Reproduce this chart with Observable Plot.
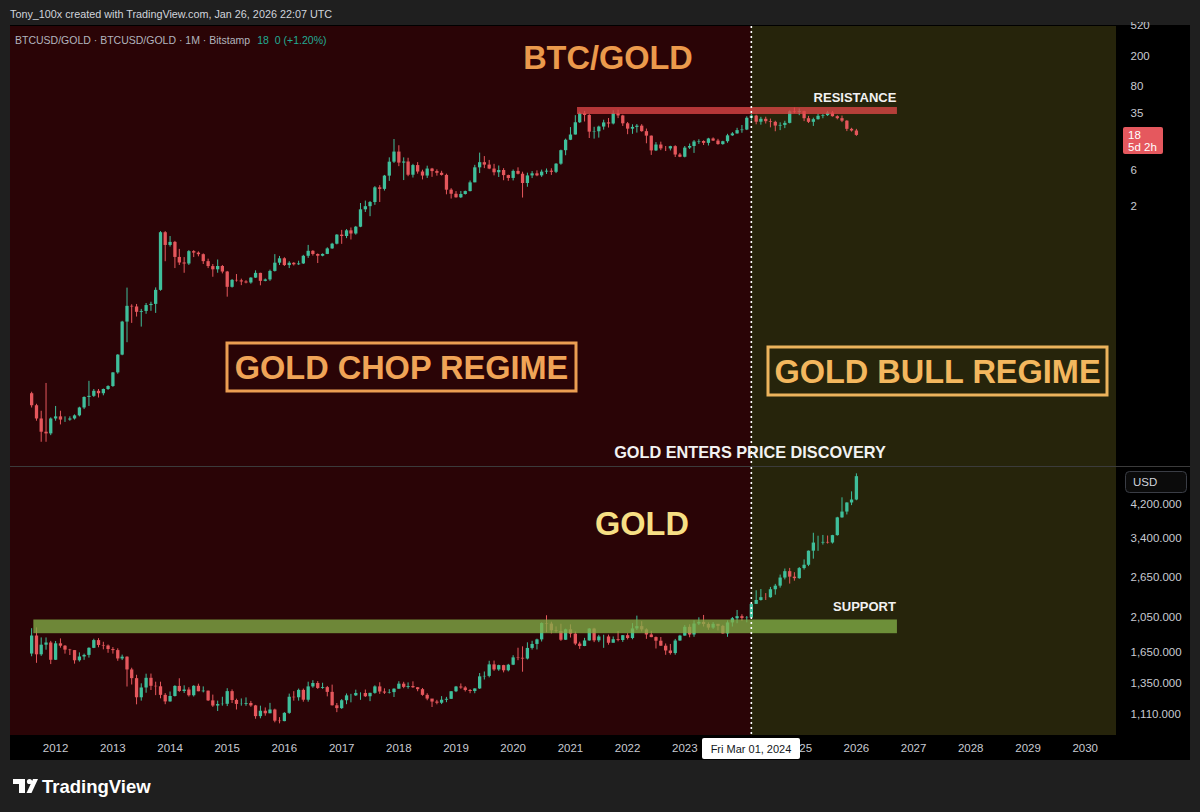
<!DOCTYPE html>
<html><head><meta charset="utf-8">
<script src="https://cdn.jsdelivr.net/npm/d3@7"></script>
<script src="https://cdn.jsdelivr.net/npm/@observablehq/plot@0.6"></script>
<style>
html,body{margin:0;padding:0;background:#1f1f1f;width:1200px;height:812px;overflow:hidden}
#wrap{position:relative;width:1200px;height:812px}
.pos{position:absolute}
#frame{left:10px;top:25px;width:1180px;height:735px;background:#000}
#sep{left:10px;top:466px;width:1180px;height:1px;background:#3b3b3b}
#overlay{position:absolute;left:0;top:0;pointer-events:none}
</style></head>
<body><div id="wrap">
<div id="frame" class="pos"></div>
<div id="topPane" class="pos" style="left:10px;top:22px"></div>
<div id="sep" class="pos"></div>
<div id="botPane" class="pos" style="left:10px;top:467px"></div>
</div>
<script>
// ---------- DATA (monthly candles, first bar = Aug 2011) ----------
const firstMonth = "2011-08-01";
const btcGoldFirstOpen = 0.0065;
const btcGoldClose = [
 .0045,.0030,.0020,.0019,.0030,
 .0032,.0029,.0029,.0030,.0033,.0042,.0058,.0060,.0070,.0065,.0074,.0081,
 .0123,.0212,.0583,.0944,.0926,.0786,.0807,.0967,.1002,.154,.900,.609,
 .669,.422,.356,.345,.504,.482,.459,.371,.319,.289,.320,.270,
 .169,.209,.206,.199,.193,.224,.259,.203,.212,.275,.354,.405,
 .329,.353,.337,.346,.437,.509,.462,.438,.463,.548,.633,.836,
 .801,.953,.865,1.065,1.814,1.997,2.266,3.555,3.391,5.09,7.80,10.63,
 7.58,7.84,5.23,7.03,5.77,5.10,6.32,5.85,5.55,5.20,3.31,2.92,
 2.62,2.90,3.17,4.14,6.56,7.68,7.13,6.32,5.64,6.05,5.17,4.74,
 5.88,5.39,4.06,5.12,5.46,5.13,5.75,5.92,5.72,7.34,11.09,15.27,
 17.92,26.07,34.43,32.62,19.56,19.80,22.86,25.96,25.13,34.38,32.13,25.26,
 21.44,22.63,23.49,19.87,17.31,11.01,13.19,11.72,11.70,12.55,9.71,9.07,
 12.00,12.60,14.46,14.70,13.87,15.88,14.88,13.37,14.59,17.47,18.53,20.49,
 20.87,29.91,31.99,26.53,29.00,26.95,26.41,23.56,24.03,25.59,36.40,35.59,
 36.60,29.51,26.42,28.64,31.80,32.44,35.18,31.40,29.56,27.38,21.32,20.25,
 17.7
];
const btcGoldHigh = [
 .0068,.0047,.0038,.0089,.0031,
 .0044,.0038,.0032,.0032,.0034,.0043,.0059,.0095,.0074,.0074,.0075,.0083,
 .0124,.0215,.0597,.165,.099,.100,.086,.103,.107,.166,.93,.93,
 .80,.69,.54,.42,.52,.52,.50,.47,.40,.34,.39,.33,
 .275,.215,.25,.217,.207,.227,.28,.26,.218,.286,.46,.435,
 .418,.37,.36,.376,.45,.61,.52,.47,.47,.567,.65,.848,
 .966,.99,1.04,1.09,2.2,2.37,2.34,3.69,3.8,5.2,8.9,15.6,
 12.9,8.9,8.8,7.3,7.7,6.1,6.9,6.45,6.17,5.9,5.4,3.46,
 3.17,3.18,3.22,4.38,7.08,10.3,9.26,8.23,7.3,6.94,6.4,5.24,
 6.14,6.56,5.74,5.57,5.85,5.98,6.12,6.33,6.37,7.46,11.3,15.8,
 22.5,32.4,35.9,36.9,33.5,22.7,23.5,28.2,29.7,37.7,38.3,32.8,
 26.3,24.5,24.7,24.6,21.5,17.4,14.2,14.4,12.6,12.7,12.9,10.2,
 12.6,13.6,15.1,15.5,15.0,16.2,16.4,15.7,14.8,18.3,19.3,22.0,
 24.0,31.3,34.3,32.8,30.8,30.9,29.2,27.3,26.0,27.3,37.6,41.0,
 39.8,37.2,31.7,30.0,33.9,33.5,37.0,36.8,32.3,32.0,27.8,22.0,
 21.3
];
const btcGoldLow = [
 .0042,.0028,.00147,.00147,.0018,
 .0028,.0025,.0027,.0028,.0029,.0032,.0040,.0044,.0058,.0057,.0061,.0072,
 .0079,.0118,.0208,.031,.056,.068,.050,.074,.081,.076,.150,.37,
 .58,.30,.33,.26,.33,.42,.43,.34,.30,.23,.26,.255,
 .125,.165,.198,.178,.188,.186,.222,.177,.20,.203,.27,.33,
 .32,.30,.325,.33,.34,.41,.44,.35,.43,.46,.54,.62,
 .63,.75,.72,.835,1.05,1.67,1.47,2.08,2.27,3.22,4.33,7.5,
 6.8,4.44,5.0,4.8,5.4,4.53,4.74,4.9,5.08,5.1,2.87,2.52,
 2.59,2.56,2.85,3.14,4.16,5.5,6.4,6.2,5.13,4.88,4.42,4.34,
 4.39,5.28,2.6,3.62,4.72,5.0,4.9,5.36,5.2,5.5,7.1,9.5,
 15.1,17.9,25.5,26.7,16.1,15.8,16.3,20.8,22.2,24.4,29.6,23.3,
 18.1,18.3,19.0,19.5,13.7,9.6,10.8,11.1,10.8,11.0,9.0,8.95,
 8.9,11.5,10.2,13.45,13.0,12.8,14.7,13.1,13.1,13.9,17.2,18.4,
 18.9,20.5,27.4,24.5,24.2,25.1,22.3,19.8,20.5,21.8,25.2,34.4,
 32.4,27.0,25.5,23.3,28.3,29.5,31.6,31.0,28.5,26.2,19.9,19.6,
 17.2
];

const goldFirstOpen = 1628;
const goldClose = [
 1825,1620,1722,1746,1565,
 1737,1711,1669,1664,1560,1598,1614,1688,1773,1719,1713,1675,
 1664,1578,1596,1472,1393,1234,1313,1396,1327,1323,1253,1202,
 1244,1326,1284,1296,1250,1327,1282,1287,1210,1171,1182,1184,
 1283,1213,1183,1184,1190,1172,1095,1133,1115,1142,1064,1061,
 1118,1238,1234,1293,1215,1322,1351,1309,1316,1277,1173,1152,
 1211,1249,1249,1268,1268,1242,1269,1322,1280,1271,1275,1303,
 1345,1318,1325,1315,1299,1253,1224,1201,1192,1215,1222,1282,
 1321,1313,1292,1284,1305,1409,1413,1520,1472,1513,1464,1517,
 1589,1585,1577,1687,1730,1781,1975,1968,1886,1879,1777,1898,
 1847,1734,1708,1769,1907,1770,1814,1814,1743,1783,1774,1829,
 1796,1909,1937,1897,1837,1807,1766,1711,1660,1633,1768,1824,
 1928,1837,1969,1990,1963,1919,1965,1940,1849,1983,2036,2063,
 2040,2044,2230,2286,2327,2326,2447,2503,2635,2744,2650,2625,
 2798,2858,3124,3289,3289,3303,3290,3448,3858,4003,4240,4320,
 5010
];
const goldHigh = [
 1912,1921,1803,1803,1764,
 1763,1792,1718,1677,1665,1640,1627,1694,1788,1795,1754,1724,
 1696,1683,1617,1600,1488,1423,1348,1433,1434,1362,1362,1267,
 1280,1332,1392,1331,1315,1332,1345,1322,1287,1255,1208,1238,
 1307,1297,1223,1225,1233,1206,1176,1170,1157,1191,1148,1088,
 1123,1263,1283,1304,1304,1362,1375,1367,1353,1326,1337,1190,
 1220,1264,1261,1295,1273,1296,1270,1331,1357,1306,1299,1306,
 1366,1361,1356,1365,1317,1309,1266,1220,1214,1243,1237,1284,
 1326,1347,1324,1300,1306,1439,1453,1555,1557,1517,1516,1525,
 1611,1689,1704,1748,1765,1789,1984,2075,1992,1933,1966,1906,
 1959,1872,1755,1798,1913,1916,1833,1834,1835,1814,1877,1831,
 1853,1974,2070,1998,1910,1879,1814,1808,1735,1730,1786,1833,
 1949,1960,2009,2048,2079,1983,1987,1949,1953,2009,2052,2146,
 2088,2065,2236,2431,2450,2388,2483,2531,2685,2790,2801,2726,
 2817,2956,3128,3500,3435,3452,3439,3454,3872,4381,4245,4550,
 5100
];
const goldLow = [
 1600,1535,1604,1668,1523,
 1563,1690,1627,1613,1527,1547,1564,1587,1685,1694,1672,1636,
 1627,1555,1562,1321,1338,1180,1208,1270,1292,1251,1226,1181,
 1200,1240,1277,1268,1240,1240,1282,1273,1205,1161,1131,1170,
 1167,1190,1142,1170,1169,1162,1077,1080,1098,1115,1053,1046,
 1060,1111,1208,1208,1200,1200,1311,1301,1302,1241,1171,1123,
 1146,1181,1195,1244,1214,1236,1204,1262,1261,1260,1264,1236,
 1302,1307,1303,1309,1282,1246,1211,1160,1180,1182,1196,1221,
 1275,1302,1280,1266,1266,1301,1381,1400,1459,1459,1445,1454,
 1513,1561,1451,1568,1670,1671,1757,1863,1849,1860,1764,1775,
 1802,1717,1677,1706,1766,1750,1750,1688,1722,1746,1759,1753,
 1780,1782,1890,1872,1787,1805,1681,1709,1615,1617,1616,1765,
 1823,1805,1810,1950,1932,1893,1903,1885,1846,1810,1932,1973,
 2002,1984,2039,2228,2277,2286,2319,2364,2472,2604,2536,2583,
 2614,2772,2833,2970,3121,3247,3268,3268,3436,3850,3930,4170,
 4300
];

const btcGoldTicks = [520, 200, 80, 35, 6, 2];
const goldTicks = [4200, 3400, 2650, 2050, 1650, 1350, 1110];
// 2024 is hidden under the crosshair date label in the reference
const yearTicks = [2012,2013,2014,2015,2016,2017,2018,2019,2020,2021,2022,2023,2025,2026,2027,2028,2029,2030];
const regimeSplit = "2024-03-01";
const resistanceZone = [33.6, 41.6];
const resistanceSpan = ["2021-02-15", "2026-09-20"];
const supportZone = [1852, 2020];
const supportSpan = ["2011-08-15", "2026-09-20"];

// ---------- BUILD ----------
const UP = "#3fbf9b", DOWN = "#e5575c";
const MAROON = "#2a0406", OLIVE = "#26240b";
const xDomain = [new Date(Date.UTC(2011,2,19)), new Date(Date.UTC(2030,6,20))];
const first = new Date(firstMonth + "T00:00:00Z");

function toCandles(close, high, low, firstOpen) {
  return close.map((c, i) => ({
    date: d3.utcMonth.offset(first, i),
    open: i ? close[i-1] : firstOpen,
    high: high[i], low: low[i], close: c
  }));
}
const btc = toCandles(btcGoldClose, btcGoldHigh, btcGoldLow, btcGoldFirstOpen);
const gold = toCandles(goldClose, goldHigh, goldLow, goldFirstOpen);
const split = new Date(regimeSplit + "T00:00:00Z");
const regimes = [
  {start: xDomain[0], end: split, fill: MAROON},
  {start: split, end: xDomain[1], fill: OLIVE}
];
const col = d => d.close >= d.open ? UP : DOWN;

function candleMarks(data) {
  return [
    Plot.ruleX(data, {x: "date", y1: "low", y2: "high", stroke: col, strokeWidth: 1}),
    Plot.ruleX(data, {x: "date", y1: "open", y2: "close", stroke: col, strokeWidth: 3.3})
  ];
}
const common = {
  width: 1180, marginLeft: 0, marginRight: 74,
  style: {background: "transparent", fontFamily: "'Liberation Sans', Arial, sans-serif", overflow: "hidden"}
};

const topPlot = Plot.plot({
  ...common, height: 444, marginTop: 4, marginBottom: 0,
  x: {type: "utc", domain: xDomain, axis: null},
  y: {type: "log", domain: [0.0007, 497], axis: null},
  color: {type: "identity"},
  marks: [
    Plot.rect(regimes, {x1: "start", x2: "end", fill: "fill"}),
    ...candleMarks(btc),
    Plot.rect([{a: new Date(resistanceSpan[0]), b: new Date(resistanceSpan[1]), lo: resistanceZone[0], hi: resistanceZone[1]}],
      {x1: "a", x2: "b", y1: "lo", y2: "hi", fill: "#dc4646", fillOpacity: 0.78}),
    Plot.ruleX([split], {stroke: "#ffffff", strokeWidth: 1.6, strokeDasharray: "2 3"}),
    Plot.text(btcGoldTicks, {y: d => d, text: d => String(d), frameAnchor: "right", dx: 14, textAnchor: "start", fill: "#c8cbd2", fontSize: 11.5})
  ]
});
document.getElementById("topPane").appendChild(topPlot);

const botPlot = Plot.plot({
  ...common, height: 293, marginTop: 0, marginBottom: 25,
  x: {type: "utc", domain: xDomain},
  y: {type: "log", domain: [971.6, 5309], axis: null},
  color: {type: "identity"},
  marks: [
    Plot.rect(regimes, {x1: "start", x2: "end", fill: "fill"}),
    ...candleMarks(gold),
    Plot.rect([{a: new Date(supportSpan[0]), b: new Date(supportSpan[1]), lo: supportZone[0], hi: supportZone[1]}],
      {x1: "a", x2: "b", y1: "lo", y2: "hi", fill: "#82ad46", fillOpacity: 0.78}),
    Plot.ruleX([split], {stroke: "#ffffff", strokeWidth: 1.6, strokeDasharray: "2 3"}),
    Plot.text(goldTicks, {y: d => d, text: d => d3.format(",.3f")(d), frameAnchor: "right", dx: 14, textAnchor: "start", fill: "#c8cbd2", fontSize: 11.5}),
    Plot.axisX(yearTicks.map(y => new Date(Date.UTC(y, 0, 1))), {tickFormat: d3.utcFormat("%Y"), tickSize: 0, tickPadding: 8, fill: "#c8cbd2", fontSize: 11.5})
  ]
});
document.getElementById("botPane").appendChild(botPlot);

// ---------- ANNOTATIONS ----------
const svg = d3.select("#wrap").append("svg").attr("id", "overlay").attr("width", 1200).attr("height", 812);
const F = "'Liberation Sans', Arial, sans-serif";
function txt(x, y, s, o = {}) {
  return svg.append("text").attr("x", x).attr("y", y).text(s)
    .attr("font-family", o.family || F).attr("font-size", o.size || 11.5)
    .attr("font-weight", o.weight || "normal").attr("fill", o.fill || "#d1d4dc")
    .attr("text-anchor", o.anchor || "start");
}
txt(10, 18, "Tony_100x created with TradingView.com, Jan 26, 2026 22:07 UTC", {size: 10.8, fill: "#d1d4dc"});
const hdr = txt(15, 44, "BTCUSD/GOLD · BTCUSD/GOLD · 1M · Bitstamp", {size: 10.5, fill: "#b2b5be"});
hdr.append("tspan").attr("dx", 7).attr("fill", "#22ab94").text("18");
hdr.append("tspan").attr("dx", 6).attr("fill", "#22ab94").text("0 (+1.20%)");

txt(608, 69, "BTC/GOLD", {size: 32.5, weight: "bold", fill: "#eb9a4c", anchor: "middle"});
txt(855, 102, "RESISTANCE", {size: 13, weight: "bold", fill: "#f2f2f2", anchor: "middle"});

svg.append("rect").attr("x", 227).attr("y", 343).attr("width", 349).attr("height", 48)
  .attr("fill", "none").attr("stroke", "#ec9e52").attr("stroke-width", 3);
txt(401.5, 379, "GOLD CHOP REGIME", {size: 32.5, weight: "bold", fill: "#f0a457", anchor: "middle"});
svg.append("rect").attr("x", 768).attr("y", 347).attr("width", 339).attr("height", 48)
  .attr("fill", "none").attr("stroke", "#ecb35c").attr("stroke-width", 3);
txt(937.5, 383, "GOLD BULL REGIME", {size: 32.5, weight: "bold", fill: "#f3b75e", anchor: "middle"});

txt(750, 458, "GOLD ENTERS PRICE DISCOVERY", {size: 16.3, weight: "bold", fill: "#f2f2f2", anchor: "middle"});
txt(642, 535, "GOLD", {size: 32.5, weight: "bold", fill: "#f7df84", anchor: "middle"});
txt(864.5, 611, "SUPPORT", {size: 13, weight: "bold", fill: "#f2f2f2", anchor: "middle"});

// price labels
svg.append("rect").attr("x", 1123).attr("y", 127).attr("width", 40).attr("height", 27).attr("rx", 2).attr("fill", "#e5585e");
txt(1128, 139, "18", {size: 11.5, fill: "#ffffff"});
txt(1128, 151, "5d 2h", {size: 11.5, fill: "#ffffff"});
svg.append("rect").attr("x", 1125.5).attr("y", 471.5).attr("width", 61).attr("height", 21).attr("rx", 4)
  .attr("fill", "#0b0b0b").attr("stroke", "#3a3d45");
txt(1133, 486, "USD", {size: 11.5, fill: "#d1d4dc"});

// crosshair date label
svg.append("rect").attr("x", 702).attr("y", 738).attr("width", 98).attr("height", 21).attr("rx", 2).attr("fill", "#ffffff");
txt(751, 752.5, "Fri Mar 01, 2024", {size: 11, fill: "#131722", anchor: "middle"});

// footer logo
const lg = svg.append("g").attr("fill", "#ffffff");
lg.append("rect").attr("x", 13).attr("y", 779).attr("width", 12).attr("height", 5);
lg.append("rect").attr("x", 19).attr("y", 779).attr("width", 6).attr("height", 14);
lg.append("circle").attr("cx", 29.5).attr("cy", 781.5).attr("r", 2.6);
lg.append("polygon").attr("points", "33,779 38,779 31.5,793 26.5,793");
txt(42, 793, "TradingView", {size: 18.5, weight: "bold", fill: "#ffffff"});
</script>
</body></html>
